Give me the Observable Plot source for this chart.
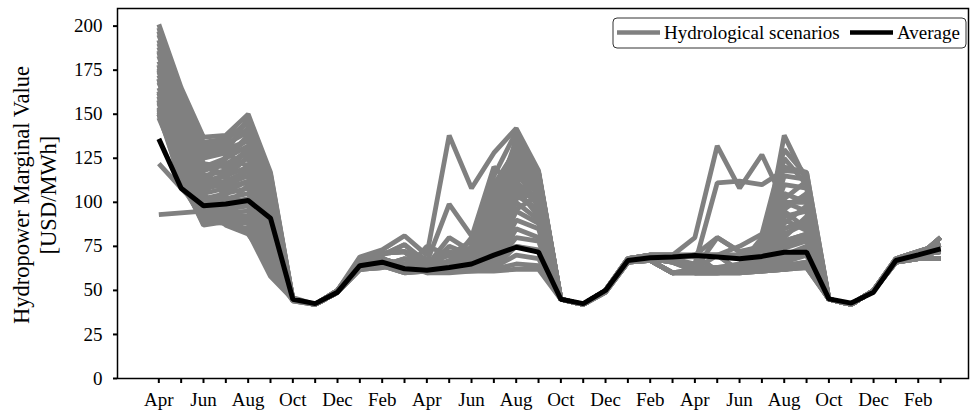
<!DOCTYPE html>
<html><head><meta charset="utf-8">
<script src="https://cdn.jsdelivr.net/npm/d3@7"></script>
<script src="https://cdn.jsdelivr.net/npm/@observablehq/plot@0.6"></script>
<style>body{margin:0;background:#fff}#chart{width:970px;height:414px}</style>
</head><body><div id="chart"></div>
<script>
const monthLabels = ["Apr","May","Jun","Jul","Aug","Sep","Oct","Nov","Dec","Jan","Feb","Mar",
  "Apr","May","Jun","Jul","Aug","Sep","Oct","Nov","Dec","Jan","Feb","Mar",
  "Apr","May","Jun","Jul","Aug","Sep","Oct","Nov","Dec","Jan","Feb","Mar"];
const yTicks = [0,25,50,75,100,125,150,175,200];

const average = [136,108,98,99,101,91,45,42.5,49,64,66,62.3,
  61.5,63,65,70,74.5,71.7,45,42.5,50,67,68.5,69,
  69.8,69,68,69.3,71.7,71.7,45.2,42.8,49,67,70.2,73.6];

const sc01 = [201,165,137,138,150,117,45,42,49,64,66,62, 62,63,64,68,115,105,45,42,50,67,68,69, 70,70,61,62,64,66,45,42,50,67,71,74];
const sc02 = [195,160,134,136,145,112,45,42,50,66,68,64, 64,80,72,85,110,100,45,42,50,66,67,60, 60,60,60,61,62,63,45,42,50,67,69,80];
const sc03 = [190,155,130,133,140,108,44,42,49,62,64,60, 61,62,64,95,128,110,45,42,50,67,68,69, 70,61,61,62,78,82,45,42,50,66,68,68];
const sc04 = [185,150,128,130,135,105,46,42,50,69,73,81, 70,138,108,128,142,118,45,42,50,68,70,70, 80,132,108,127,100,95,45,42,50,67,70,72];
const sc05 = [180,148,125,128,148,115,45,42,49,63,65,61, 62,62,63,66,95,88,45,42,49,66,68,66, 62,62,63,70,138,112,45,42,50,68,72,76];
const sc06 = [176,145,120,125,132,100,45,42,49,65,70,76, 66,99,81,100,125,112,45,42,50,67,69,68, 65,111,112,110,118,117,45,42,50,67,71,74];
const sc07 = [172,140,118,122,128,98,45,42,50,67,71,72, 68,65,66,90,118,108,45,42,50,67,68,69, 70,70,70,61,62,64,45,42,50,67,70,72];
const sc08 = [168,138,115,118,125,95,45,42,49,63,64,68, 62,72,68,100,135,115,45,42,50,66,67,60, 60,60,61,62,70,75,45,42,50,66,68,68];
const sc09 = [165,135,112,115,120,92,45,42,49,62,63,65, 62,63,75,110,130,117,45,42,50,67,68,69, 62,63,64,80,120,117,45,42,50,67,71,74];
const sc10 = [162,132,110,112,118,90,45,42,49,64,66,62, 61,62,63,75,120,116,45,42,50,68,70,70, 61,62,63,75,110,108,45,42,50,67,69,80];
const sc11 = [160,130,108,110,115,88,45,42,50,66,68,64, 61,61,62,85,105,95,45,42,49,66,68,66, 62,80,72,75,105,100,45,42,50,68,72,76];
const sc12 = [158,128,105,108,112,85,44,42,49,62,64,60, 61,62,63,72,100,90,45,42,50,67,69,68, 61,61,62,68,100,100,45,42,50,67,70,72];
const sc13 = [156,125,102,105,108,82,45,42,49,63,65,61, 61,61,62,64,90,85,45,42,50,67,68,69, 69,61,61,62,64,65,45,42,50,66,68,68];
const sc14 = [154,122,100,102,105,80,45,42,49,64,66,62, 61,62,62,63,85,80,45,42,50,66,67,60, 61,62,62,65,92,95,45,42,50,67,71,74];
const sc15 = [152,120,98,100,102,78,45,42,50,67,71,72, 60,61,62,64,80,78,45,42,50,68,70,70, 70,70,70,70,62,64,45,42,50,67,69,80];
const sc16 = [151,118,96,98,100,75,45,42,49,63,64,68, 61,61,62,63,75,72,45,42,49,66,68,66, 61,61,62,64,85,90,45,42,50,67,70,72];
const sc17 = [150,115,94,96,98,72,45,42,49,62,63,65, 62,62,62,63,70,68,45,42,50,67,69,68, 60,60,61,62,78,82,45,42,50,68,72,76];
const sc18 = [150,112,92,94,95,70,45,42,49,64,66,62, 61,61,61,62,65,64,45,42,50,67,68,69, 60,60,60,61,64,66,45,42,50,66,68,68];
const sc19 = [153,110,90,92,92,68,45,42,50,66,68,64, 60,60,61,61,62,62,45,42,50,66,67,60, 60,60,60,61,62,63,45,42,50,67,71,74];
const sc20 = [158,112,88,90,90,65,45,42,49,63,65,61, 75,70,65,68,75,73,45,42,50,68,70,70, 70,80,72,74,96,105,45,42,50,67,70,72];
const sc21 = [163,114,87,89,88,62,44,42,49,62,64,60, 63,75,70,105,132,114,45,42,50,67,69,68, 61,62,63,72,115,113,45,42,50,67,69,80];
const sc22 = [170,118,89,88,85,60,45,42,49,64,66,62, 62,64,80,120,108,100,45,42,50,67,68,69, 70,61,62,62,64,65,45,42,50,66,68,68];
const sc23 = [178,122,91,88,83,58,45,42,49,63,65,61, 61,63,66,78,138,117,45,42,49,66,68,66, 62,62,64,70,125,110,45,42,50,68,72,76];
const sc24 = [122,108,95,92,88,66,45,42,50,66,68,64, 62,62,65,88,112,117,45,42,50,68,70,70, 61,61,62,66,88,98,45,42,50,67,71,74];
const sc25 = [93,94,95,93,92,75,45,42,49,64,66,62, 61,62,64,70,108,92,45,42,50,67,68,69, 60,61,62,63,74,78,45,42,50,67,70,72];
const sc26 = [186,140,100,104,122,102,45,42,50,67,71,72, 63,64,68,92,126,116,45,42,50,66,67,60, 62,63,65,78,102,112,45,42,50,66,68,68];
const sc27 = [197,150,112,125,138,110,45,42,49,65,70,76, 65,70,78,100,122,104,45,42,50,67,69,68, 62,70,75,82,130,115,45,42,50,67,69,80];
const sc28 = [160,125,130,128,120,96,45,42,49,63,64,68, 62,63,65,80,118,98,45,42,50,68,70,70, 70,70,61,62,66,70,45,42,50,67,71,74];
const sc29 = [148,118,105,117,130,110,45,42,49,62,63,65, 61,62,70,95,115,112,45,42,50,67,68,69, 61,62,63,67,95,85,45,42,50,68,72,76];
const sc30 = [175,130,97,87,82,64,45,42,49,64,66,62, 62,62,63,66,102,106,45,42,49,66,68,66, 61,61,61,63,82,88,45,42,50,67,70,72];
const sc31 = [199,158,126,132,142,114,45,42,50,66,68,64, 62,67,72,98,130,108,45,42,50,67,69,68, 70,70,70,61,62,64,45,42,50,66,68,68];
const sc32 = [183,145,132,135,146,116,45,42,49,64,66,62, 63,65,68,115,140,116,45,42,50,67,68,69, 60,60,61,62,68,72,45,42,50,67,71,74];
const sc33 = [188,152,122,120,130,104,45,42,49,63,65,61, 61,62,64,82,110,102,45,42,50,68,70,70, 61,62,62,64,98,104,45,42,50,67,69,80];
const sc34 = [170,135,110,126,136,106,45,42,50,67,71,72, 62,64,66,84,120,110,45,42,50,66,67,60, 62,62,63,66,90,84,45,42,50,68,72,76];
const sc35 = [192,146,116,106,112,94,45,42,49,64,66,62, 62,63,66,76,104,96,45,42,50,67,68,69, 61,62,62,64,70,74,45,42,50,67,70,72];
const sc36 = [162,128,121,114,126,103,45,42,50,66,68,64, 61,62,63,69,96,104,45,42,50,67,69,68, 62,62,63,64,80,92,45,42,50,67,71,74];
const sc37 = [174,142,104,97,110,86,45,42,49,63,65,61, 62,63,64,90,112,98,45,42,50,66,67,60, 61,61,62,63,68,70,45,42,50,66,68,68];
const sc38 = [157,124,93,108,118,84,45,42,49,64,66,62, 61,62,66,82,124,106,45,42,50,68,70,70, 61,61,62,64,76,80,45,42,50,67,69,80];

const scenarios = [sc01,sc02,sc03,sc04,sc05,sc06,sc07,sc08,sc09,sc10,sc11,sc12,sc13,sc14,sc15,sc16,sc17,sc18,sc19,
  sc20,sc21,sc22,sc23,sc24,sc25,sc26,sc27,sc28,sc29,sc30,sc31,sc32,sc33,sc34,sc35,sc36,sc37,sc38];

const scenarioRows = scenarios.flatMap((s, k) => s.map((v, i) => ({scenario: k, i, v})));
const avgRows = average.map((v, i) => ({i, v}));
const monthIdx = monthLabels.map((_, i) => i);

const font = "'Liberation Serif','Times New Roman',serif";

const plot = Plot.plot({
  width: 970, height: 414,
  marginLeft: 117, marginRight: 2, marginTop: 8, marginBottom: 36,
  style: {fontFamily: font, fontSize: "19px", background: "#fff", color: "#000", overflow: "visible"},
  x: {domain: [-1.85, 36.25]},
  y: {domain: [0, 210]},
  marks: [
    Plot.axisX({ticks: monthIdx, tickFormat: i => i % 2 === 0 ? monthLabels[i] : "", tickSize: 5, tickPadding: 9, strokeWidth: 2, label: null, fontSize: 19}),
    Plot.axisY({ticks: yTicks, tickSize: 4, tickPadding: 11, strokeWidth: 2, label: null, fontSize: 19}),
    Plot.line(scenarioRows, {x: "i", y: "v", z: "scenario", stroke: "#808080", strokeWidth: 4.8, strokeLinejoin: "miter", strokeLinecap: "butt"}),
    Plot.line(avgRows, {x: "i", y: "v", stroke: "#000", strokeWidth: 5, strokeLinejoin: "miter", strokeLinecap: "butt"}),
    Plot.frame({stroke: "#000", strokeWidth: 1.5})
  ]
});
document.getElementById("chart").appendChild(plot);

const svg = d3.select(plot);
const ylab = svg.append("g").attr("font-family", font).attr("font-size", 22.5).attr("fill", "#000").attr("text-anchor", "middle");
ylab.append("text").attr("transform", "translate(29,195) rotate(-90)").text("Hydropower Marginal Value");
ylab.append("text").attr("transform", "translate(56,195) rotate(-90)").text("[USD/MWh]");

const leg = svg.append("g").attr("font-family", font).attr("font-size", 19).attr("fill", "#000").attr("text-anchor", "start");
leg.append("rect").attr("x", 613).attr("y", 18).attr("width", 353).attr("height", 30).attr("rx", 4)
  .attr("fill", "#fff").attr("stroke", "#333").attr("stroke-width", 1);
leg.append("line").attr("x1", 617).attr("x2", 660).attr("y1", 32.5).attr("y2", 32.5).attr("stroke", "#808080").attr("stroke-width", 4.5);
leg.append("text").attr("x", 664).attr("y", 39).text("Hydrological scenarios");
leg.append("line").attr("x1", 850).attr("x2", 893).attr("y1", 32.5).attr("y2", 32.5).attr("stroke", "#000").attr("stroke-width", 4.5);
leg.append("text").attr("x", 897).attr("y", 39).text("Average");
</script></body></html>
